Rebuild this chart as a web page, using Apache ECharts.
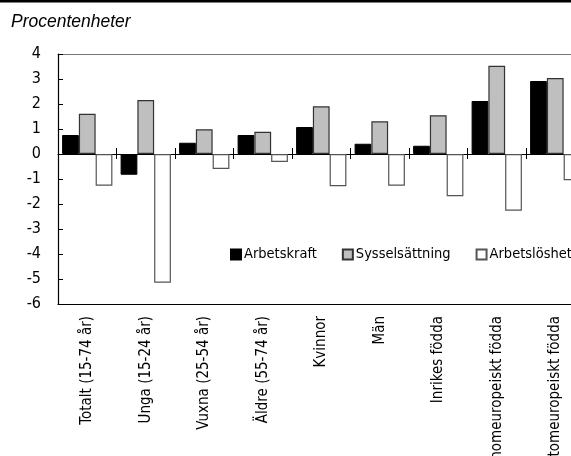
<!DOCTYPE html>
<html>
<head>
<meta charset="utf-8">
<script src="https://cdn.jsdelivr.net/npm/echarts@6/dist/echarts.min.js"></script>
<style>
html,body{margin:0;padding:0;background:#fff;}
#chart{width:571px;height:456px;}
</style>
</head>
<body>
<div id="chart"></div>
<script>
const categories = ['Totalt (15-74 år)', 'Unga (15-24 år)', 'Vuxna (25-54 år)', 'Äldre (55-74 år)', 'Kvinnor', 'Män', 'Inrikes födda', 'Inomeuropeiskt födda', 'Utomeuropeiskt födda'];
const arbetskraft = [0.76, -0.83, 0.45, 0.76, 1.08, 0.41, 0.33, 2.12, 2.92];
const sysselsattning = [1.61, 2.16, 0.99, 0.89, 1.91, 1.31, 1.55, 3.53, 3.04];
const arbetsloshet = [-1.27, -5.15, -0.60, -0.32, -1.29, -1.27, -1.69, -2.27, -1.05];
const yTicks = [-6, -5, -4, -3, -2, -1, 0, 1, 2, 3, 4];
const titleText = 'Procentenheter';

const NARROW = "'DejaVu Sans Condensed', 'Liberation Sans Narrow', sans-serif";
const chart = echarts.init(document.getElementById('chart'), null, {renderer: 'canvas'});
chart.setOption({
  animation: false,
  backgroundColor: '#fff',
  graphic: [
    {type: 'rect', left: 0, top: 0, shape: {width: 571, height: 2.5}, style: {fill: '#000'}},
    {type: 'text', left: 11, top: 13, style: {text: titleText, font: "italic 17.5px 'Liberation Sans', Arial, sans-serif", fill: '#000'}}
  ],
  legend: {
    left: 230, top: 247, width: 420, padding: 0,
    itemWidth: 10, itemHeight: 10, itemGap: 25,
    selectedMode: false,
    textStyle: {fontFamily: NARROW, fontSize: 14.5, color: '#000', padding: [0, 0, 0, -2]},
    data: [
      {name: 'Arbetskraft', icon: 'rect'},
      {name: 'Sysselsättning', icon: 'rect'},
      {name: 'Arbetslöshet', icon: 'rect'}
    ]
  },
  grid: {left: 58, top: 54, width: 526.5, height: 250, containLabel: false, outerBoundsMode: 'none'},
  xAxis: [
    {type: 'category', data: categories, position: 'bottom',
     axisLine: {onZero: false, lineStyle: {color: '#000', width: 1.2}},
     axisTick: {show: false},
     axisLabel: {rotate: 90, interval: 0, margin: 12, fontFamily: NARROW, fontSize: 15, color: '#000'},
     splitLine: {show: false}},
    {type: 'category', data: categories, position: 'top',
     axisLine: {onZero: false, lineStyle: {color: '#777', width: 1}},
     axisTick: {show: false}, axisLabel: {show: false}},
    {type: 'category', data: categories, position: 'bottom',
     axisLine: {onZero: true, onZeroAxisIndex: 0, lineStyle: {color: '#000', width: 1.2}},
     axisTick: {show: true, interval: 0, length: 5, inside: false, lineStyle: {color: '#000', width: 1}},
     axisLabel: {show: false}},
    {type: 'category', data: categories, position: 'bottom',
     axisLine: {onZero: true, onZeroAxisIndex: 0, show: false},
     axisTick: {show: true, interval: 0, length: 6, inside: true, lineStyle: {color: '#000', width: 1}},
     axisLabel: {show: false}}
  ],
  yAxis: {
    type: 'value', min: -6, max: 4, interval: 1,
    axisLine: {show: true, lineStyle: {color: '#000', width: 1.2}},
    axisTick: {show: true, inside: true, length: 5, lineStyle: {color: '#000'}},
    axisLabel: {margin: 17, fontFamily: NARROW, fontSize: 16, color: '#000',
      formatter: v => yTicks.indexOf(v) >= 0 ? String(v) : ''},
    splitLine: {show: false}
  },
  series: [
    {name: 'Arbetskraft', type: 'bar', xAxisIndex: 0, data: arbetskraft, barGap: '0%', barCategoryGap: '14%',
     itemStyle: {color: '#000', borderColor: '#000', borderWidth: 1}},
    {name: 'Sysselsättning', type: 'bar', xAxisIndex: 0, data: sysselsattning, barGap: '0%', barCategoryGap: '14%',
     itemStyle: {color: '#bfbfbf', borderColor: '#333', borderWidth: 1.2}},
    {name: 'Arbetslöshet', type: 'bar', xAxisIndex: 0, data: arbetsloshet, barGap: '0%', barCategoryGap: '14%',
     itemStyle: {color: '#fff', borderColor: '#555', borderWidth: 1.2}}
  ]
});
</script>
</body>
</html>
